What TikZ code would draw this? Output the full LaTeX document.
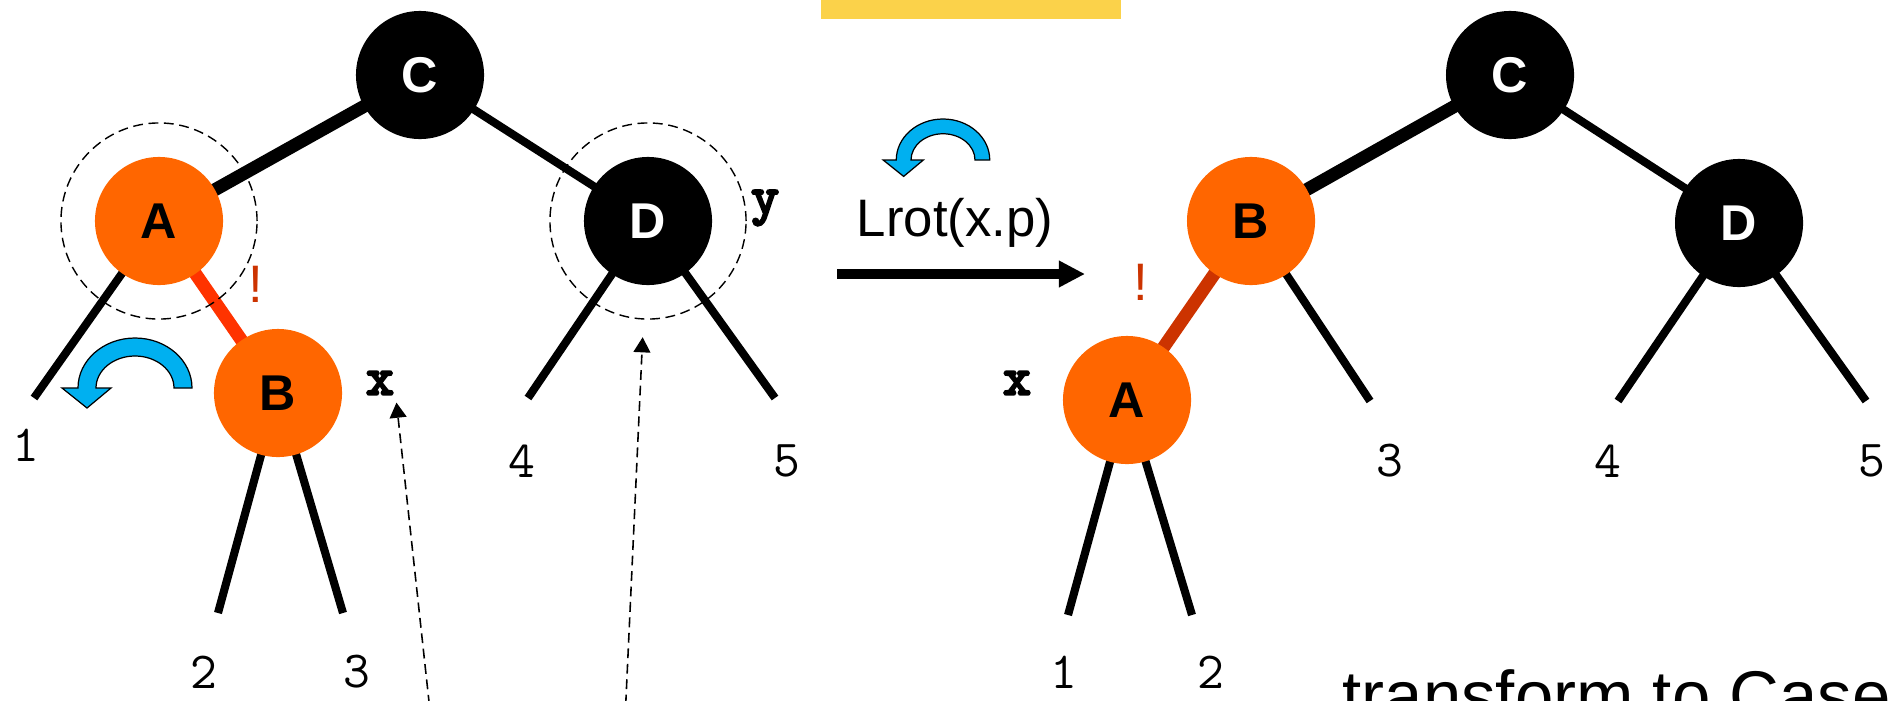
\documentclass[tikz,border=0pt]{standalone}
\usepackage{fontspec}
\setmainfont{Liberation Sans}
\newfontfamily\varfont{lmmonolt10-bold.otf}[FakeBold=3]
\usetikzlibrary{arrows.meta}
\definecolor{rbOrange}{RGB}{255,102,0}
\definecolor{rbRed}{RGB}{255,51,0}
\definecolor{rbDark}{RGB}{204,51,0}
\definecolor{rbBlue}{RGB}{0,176,240}
\definecolor{rbYellow}{RGB}{251,210,74}
\pgfdeclarelayer{bg}
\pgfsetlayers{bg,main}
\tikzset{>=stealth,
  rb/.style={circle,inner sep=0pt,minimum size=1.28cm,font=\fontsize{14.3}{16}\selectfont\bfseries},
  blacknd/.style={rb,fill=black,text=white},
  rednd/.style={rb,fill=rbOrange},
  ring/.style={circle,draw,line width=0.4pt,dash pattern=on 2.8pt off 1.6pt,minimum size=1.96cm,inner sep=0pt},
  twig/.style={line width=2.3pt},
  fat/.style={line width=3.7pt},
  num/.style={font=\ttfamily\fontsize{14.8}{16}\selectfont,inner sep=0pt},
  vname/.style={font=\varfont\fontsize{15.5}{16}\selectfont,inner sep=2pt},
  bang/.style={text=rbDark,font=\fontsize{15}{16}\selectfont,inner sep=0pt},
  ptr/.style={line width=0.45pt,dash pattern=on 2.8pt off 1.6pt,-{Triangle[length=4.3pt,width=4.8pt]}},
  rotarr/.pic={\draw[fill=rbBlue,line width=0.35pt] (57,0) arc[start angle=0,end angle=-180,x radius=57,y radius=50]
    -- (-73,0) -- (-48,20) -- (-24,0) -- (-39,0) arc[start angle=-180,end angle=0,x radius=39,y radius=32] -- cycle;}
}

\begin{document}
\begin{tikzpicture}[x=0.01cm,y=-0.01cm]
    \useasboundingbox (0,0) rectangle (1892,700);
    \fill[rbYellow] (821,0) rectangle (1121,19);
    % before the rotation
    \node[blacknd] (C1) at (420,75) {C};
    \node[rednd] (A1) at (159,221) {A};
    \node[blacknd] (D1) at (648,221) {D};
    \node[rednd] (B1) at (278,393) {B};
    \node[ring] (Ar) at (A1) {};
    \node[ring] (Dr) at (D1) {};
    \coordinate (a1) at (34,398);
    \coordinate (a2) at (218,613);
    \coordinate (a3) at (343,613);
    \coordinate (a4) at (528,398);
    \coordinate (a5) at (775,398);
    \node[num] (n1) at (26,445) {1};
    \node[num] (n2) at (204,672) {2};
    \node[num] (n3) at (357,672) {3};
    \node[num] (n4) at (522,461) {4};
    \node[num] (n5) at (787,461) {5};
    \node[vname] (x1) at (380,383) {x};
    \node[vname] (y1) at (765,208) {y};
    \node[bang] (e1) at (256,284) {!};
    \pic at (135,388) {rotarr};
    \begin{pgfonlayer}{bg}
    \draw[fat] (C1.center) -- (A1.center);
    \draw[twig] (C1.center) -- (D1.center) (A1.center) -- (a1) (B1.center) -- (a2) (B1.center) -- (a3)
        (D1.center) -- (a4) (D1.center) -- (a5);
    \draw[fat,rbRed] (A1.center) -- (B1.center);
    \end{pgfonlayer}
    \coordinate (p1) at (431,720);
    \coordinate (p2) at (625,720);
    \draw[ptr] (p1) -- (x1.-50);
    \draw[ptr,shorten >=5pt] (p2) -- (Dr);
    % rotation
    \coordinate (r0) at (837,274);
    \coordinate (r1) at (1085,274);
    \draw[line width=2.6pt,-{Triangle[length=7.4pt,width=7.1pt]}] (r0) -- (r1);
    \node[font=\fontsize{15}{18}\selectfont] (rot) at (955,223) {Lrot(x.p)};
    \pic[scale=0.82] at (943,160) {rotarr};
    % after the rotation
    \node[blacknd] (C2) at (1510,75) {C};
    \node[rednd] (B2) at (1251,221) {B};
    \node[blacknd] (D2) at (1739,223) {D};
    \node[rednd] (A2) at (1127,400) {A};
    \coordinate (b1) at (1068,615);
    \coordinate (b2) at (1192,615);
    \coordinate (b3) at (1370,401);
    \coordinate (b4) at (1618,401);
    \coordinate (b5) at (1866,401);
    \node[num] (m1) at (1064,672) {1};
    \node[num] (m2) at (1211,672) {2};
    \node[num] (m3) at (1390,461) {3};
    \node[num] (m4) at (1608,461) {4};
    \node[num] (m5) at (1872,461) {5};
    \node[vname] (x2) at (1017,383) {x};
    \node[bang] (e2) at (1141,282) {!};
    \begin{pgfonlayer}{bg}
    \draw[fat] (C2.center) -- (B2.center);
    \draw[twig] (C2.center) -- (D2.center) (B2.center) -- (b3) (D2.center) -- (b4) (D2.center) -- (b5)
        (A2.center) -- (b1) (A2.center) -- (b2);
    \draw[fat,rbDark] (B2.center) -- (A2.center);
    \end{pgfonlayer}
    \node[anchor=base west,inner sep=0pt,font=\fontsize{19.6}{22}\selectfont] (tc) at (1342,719) {transform to Case};
\end{tikzpicture}
\end{document}
